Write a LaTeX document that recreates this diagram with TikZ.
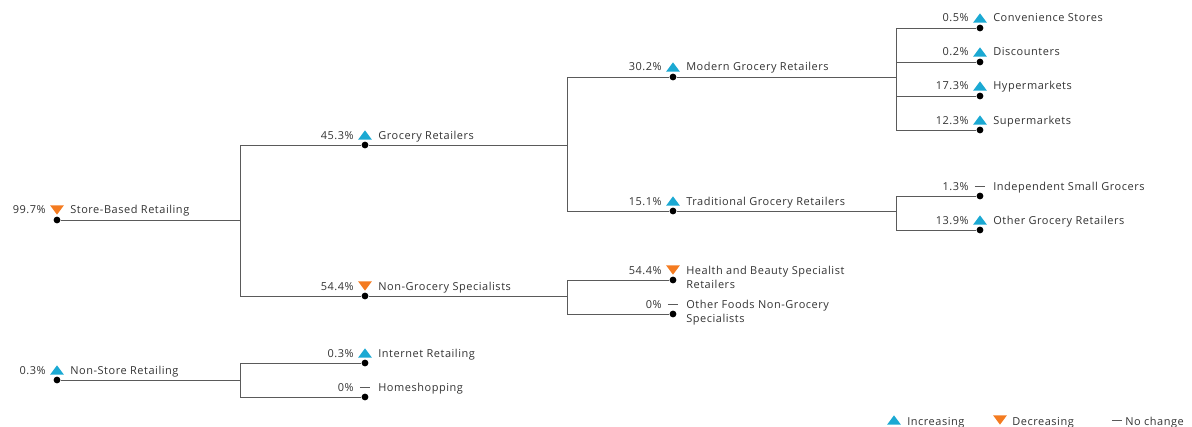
\documentclass[tikz,border=0pt]{standalone}
\usepackage{fontspec}
\newfontfamily\chartfont{Open Sans}[LetterSpace=5]
\definecolor{upcol}{HTML}{1BA9D3}
\definecolor{downcol}{HTML}{F47B20}
\definecolor{inkcol}{HTML}{333333}
\definecolor{linecol}{HTML}{5A5A5A}
\tikzset{
  upmk/.pic={\fill[upcol] (-4.9pt,-3.3pt) -- (4.9pt,-3.3pt) -- (0pt,3.3pt) -- cycle;},
  downmk/.pic={\fill[downcol] (-4.9pt,3.3pt) -- (4.9pt,3.3pt) -- (0pt,-3.3pt) -- cycle;},
  flatmk/.pic={\draw[linecol, line width=0.7pt] (-3.6pt,0pt) -- (3.6pt,0pt);}
}
\newcommand{\twolines}[2]{\vtop{\hbox{#1}\hbox{#2}}}
\begin{document}
\begin{tikzpicture}[x=0.025cm, y=-0.025cm,
  font=\chartfont\fontsize{7.8}{10.6}\selectfont, text=inkcol,
  dot/.style={circle, fill=black, inner sep=0, minimum size=0.17cm},
  val/.style={anchor=base east, inner sep=0},
  lbl/.style={anchor=base west, inner sep=0},
  link/.style={draw=linecol, line width=0.6pt}]
\useasboundingbox (0,0) rectangle (1192,427);
\foreach \nm/\px/\py/\val/\mk/\txt in {
  sbr/57/220/99.7\%/downmk/Store-Based Retailing,
  gr/365/145/45.3\%/upmk/Grocery Retailers,
  ngs/365/296/54.4\%/downmk/Non-Grocery Specialists,
  mgr/673/77/30.2\%/upmk/Modern Grocery Retailers,
  tgr/673/211/15.1\%/upmk/Traditional Grocery Retailers,
  cs/980/28/0.5\%/upmk/Convenience Stores,
  ds/980/62/0.2\%/upmk/Discounters,
  hm/980/96/17.3\%/upmk/Hypermarkets,
  sm/980/130/12.3\%/upmk/Supermarkets,
  isg/980/196/1.3\%/flatmk/Independent Small Grocers,
  ogr/980/230/13.9\%/upmk/Other Grocery Retailers,
  hbs/673/280/54.4\%/downmk/{\twolines{Health and Beauty Specialist}{Retailers}},
  ofs/673/314/0\%/flatmk/{\twolines{Other Foods Non-Grocery}{Specialists}},
  nsr/57/380/0.3\%/upmk/Non-Store Retailing,
  ir/365/363/0.3\%/upmk/Internet Retailing,
  hs/365/397/0\%/flatmk/Homeshopping}{
  \node[dot] (\nm) at (\px,\py) {};
  \pic at (\px,\py-10) {\mk};
  \node[val] (\nm-v) at (\px-11,\py-6) {\val};
  \node[lbl] (\nm-l) at (\px+13,\py-6) {\txt};
}
% junctions of the tree
\coordinate (sbr-j) at (240,220);
\coordinate (gr-j) at (567,145);
\coordinate (ngs-j) at (567,296);
\coordinate (mgr-j) at (896,77);
\coordinate (tgr-j) at (896,211);
\coordinate (nsr-j) at (240,380);
\foreach \p/\kids in {sbr/{gr,ngs}, gr/{mgr,tgr}, ngs/{hbs,ofs},
  mgr/{cs,ds,hm,sm}, tgr/{isg,ogr}, nsr/{ir,hs}}{
  \draw[link] (\p) -- (\p-j);
  \foreach \c in \kids \draw[link] (\c) -| (\p-j);
}
% legend
\pic at (894,420) {upmk};
\node[lbl] (leg-up) at (907,425) {Increasing};
\pic at (1000,420) {downmk};
\node[lbl] (leg-down) at (1012,425) {Decreasing};
\pic at (1117,420) {flatmk};
\node[lbl] (leg-flat) at (1125,425) {No change};
\end{tikzpicture}
\end{document}
